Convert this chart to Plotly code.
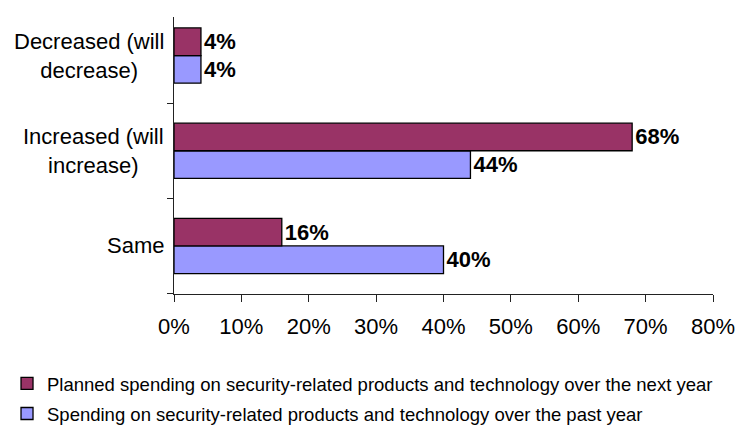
import plotly.graph_objects as go

categories = ["Same", "Increased (will increase)", "Decreased (will decrease)"]
category_labels = ["Same", "Increased (will<br>increase)", "Decreased (will<br>decrease)"]
past_year = [40, 44, 4]
next_year = [16, 68, 4]
series_names = [
    "Spending on security-related products and technology over the past year",
    "Planned spending on security-related products and technology over the next year",
]
x_ticks = [0, 10, 20, 30, 40, 50, 60, 70, 80]
x_ticktext = [f"{v}%" for v in x_ticks]

FONT = "Liberation Sans, Arial, sans-serif"

fig = go.Figure()
fig.add_trace(go.Bar(
    y=categories, x=past_year, orientation="h", name=series_names[0],
    legendgroup="past", legendrank=2,
    marker=dict(color="#9999FF", line=dict(color="black", width=1.3)),
    text=[f"<b>{v}%</b>" for v in past_year], textposition="outside",
    textfont=dict(family=FONT, size=22, color="black"), constraintext="none",
    cliponaxis=False,
))
fig.add_trace(go.Bar(
    y=categories, x=next_year, orientation="h", name=series_names[1],
    legendgroup="next", legendrank=1,
    marker=dict(color="#993366", line=dict(color="black", width=1.3)),
    text=[f"<b>{v}%</b>" for v in next_year], textposition="outside",
    textfont=dict(family=FONT, size=22, color="black"), constraintext="none",
    cliponaxis=False,
))

for cat, lab in zip(categories, category_labels):
    fig.add_annotation(
        x=0, xref="paper", y=cat, yref="y", text=lab, showarrow=False,
        xanchor="right", yanchor="middle", align="center", xshift=-8,
        font=dict(family=FONT, size=22, color="black"),
    )

fig.update_layout(
    width=738, height=426,
    margin=dict(l=174, r=25, t=17, b=132, autoexpand=False),
    paper_bgcolor="white", plot_bgcolor="white",
    barmode="group", bargap=0.42, bargroupgap=0,
    font=dict(family=FONT, color="black"),
    showlegend=True,
    legend=dict(
        x=-0.3098, y=-0.256,
        xanchor="left", yanchor="top", traceorder="grouped",
        font=dict(family=FONT, size=18.5, color="black"),
        bgcolor="rgba(0,0,0,0)", itemwidth=30, tracegroupgap=3,
    ),
    xaxis=dict(
        range=[0, 80], tickmode="array", tickvals=x_ticks, ticktext=x_ticktext,
        showgrid=False, zeroline=False, showline=True, linecolor="#222", linewidth=1,
        ticks="outside", ticklen=7, tickcolor="#222", tickwidth=1,
        tickfont=dict(family=FONT, size=22, color="black"), ticklabelstandoff=6,
    ),
    yaxis=dict(
        type="category", categoryorder="array", categoryarray=categories,
        range=[-0.505, 2.405], showticklabels=False, tickson="boundaries",
        showgrid=False, zeroline=False, showline=True, linecolor="#222", linewidth=1,
        ticks="outside", ticklen=6, tickcolor="#222", tickwidth=1,
    ),
)

fig.write_html("out.html")
